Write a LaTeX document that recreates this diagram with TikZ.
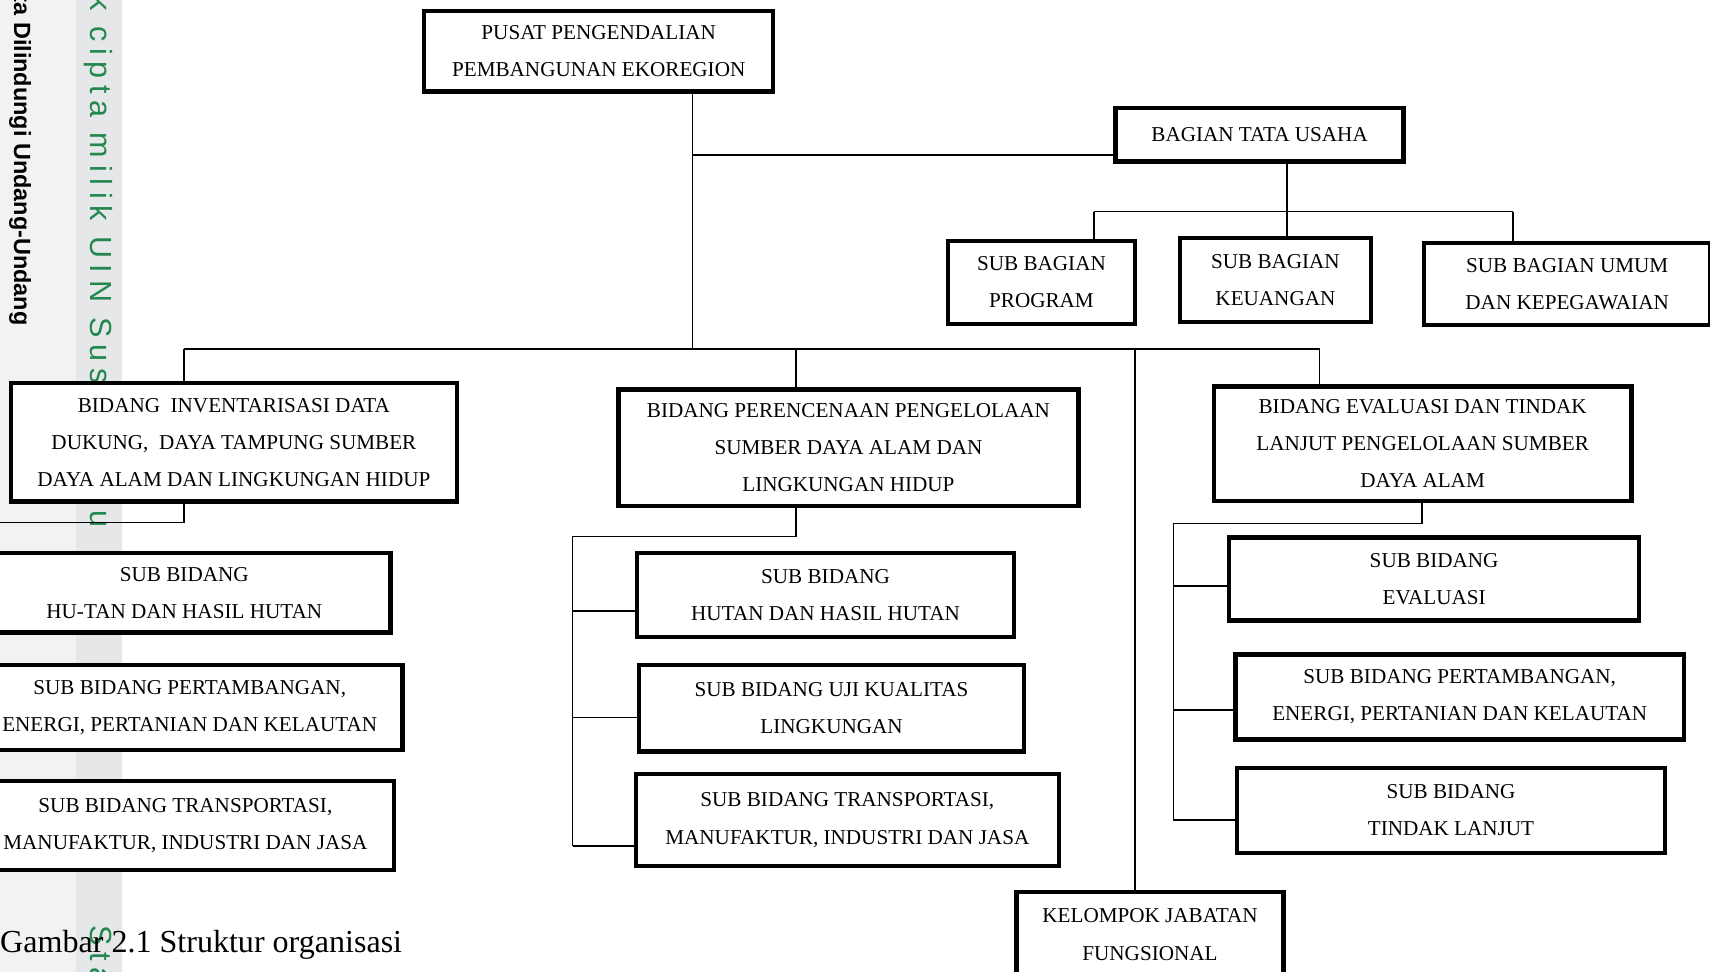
\documentclass[tikz,border=0pt]{standalone}
\usepackage{fontspec}
\setmainfont{Liberation Serif}
\newfontfamily\wmsans{Liberation Sans}[LetterSpace=22]
\newfontfamily\wmbold{Liberation Sans}
\definecolor{stripgray}{HTML}{E6E7E8}
\definecolor{leftgray}{HTML}{F2F2F2}
\definecolor{wmgreen}{HTML}{23874F}
\tikzset{
  orgbox/.style={draw=black, line width=4pt, fill=white, align=center, inner sep=0pt,
    font=\fontsize{19.4}{34}\selectfont},
  link/.style={draw=black, line width=1.6pt},
  wmtext/.style={rotate=-90, anchor=base west, inner sep=0pt}
}
\begin{document}
\begin{tikzpicture}[x=1pt,y=-1pt]
\useasboundingbox (0,0) rectangle (1568,891);
\clip (0,0) rectangle (1568,891);
% page margin strip
\fill[leftgray] (0,0) rectangle (70,891);
\fill[stripgray] (70,0) rectangle (112,891);
\node[wmtext, text=black, font=\wmbold\bfseries\fontsize{21.5}{24}\selectfont] (wm1) at (13,-85) {Hak Cipta Dilindungi Undang-Undang};
\node[wmtext, text=wmgreen, font=\wmsans\fontsize{28}{32}\selectfont] (wm2) at (83,-52) {Hak cipta milik UIN Suska Riau};
\node[wmtext, text=wmgreen, font=\wmsans\fontsize{28}{32}\selectfont] (wm3) at (83,848) {State Islamic University of Sultan Syarif Kasim Riau};

% boxes
\node[orgbox, minimum width=320pt, minimum height=74pt] (pusat) at (549,47) {PUSAT PENGENDALIAN\\PEMBANGUNAN EKOREGION};
\node[orgbox, minimum width=264pt, minimum height=49pt] (btu) at (1155,123.5) {BAGIAN TATA USAHA};
\node[orgbox, minimum width=172pt, minimum height=76pt] (sbprog) at (955,259) {SUB BAGIAN\\PROGRAM};
\node[orgbox, minimum width=175pt, minimum height=77pt] (sbkeu) at (1169.5,256.5) {SUB BAGIAN\\KEUANGAN};
\node[orgbox, minimum width=262pt, minimum height=75pt] (sbumum) at (1437,260.5) {SUB BAGIAN UMUM\\DAN KEPEGAWAIAN};

\node[orgbox, minimum width=409pt, minimum height=109pt] (binv) at (214.5,405.5) {BIDANG\ \ INVENTARISASI DATA\\DUKUNG,\ \ DAYA TAMPUNG SUMBER\\DAYA ALAM DAN LINGKUNGAN HIDUP};
\node[orgbox, minimum width=422pt, minimum height=107pt] (bper) at (778,410.5) {BIDANG PERENCENAAN PENGELOLAAN\\SUMBER DAYA ALAM DAN\\LINGKUNGAN HIDUP};
\node[orgbox, minimum width=383pt, minimum height=105pt] (beval) at (1304.5,407) {BIDANG EVALUASI DAN TINDAK\\LANJUT PENGELOLAAN SUMBER\\DAYA ALAM};

\node[orgbox, minimum width=378pt, minimum height=73pt] (lhutan) at (169,543.5) {SUB BIDANG\\HU-TAN DAN HASIL HUTAN};
\node[orgbox, minimum width=390pt, minimum height=78pt] (ltamb) at (174,649) {SUB BIDANG PERTAMBANGAN,\\ENERGI, PERTANIAN DAN KELAUTAN};
\node[orgbox, minimum width=382pt, minimum height=82pt] (ltrans) at (170,757) {SUB BIDANG TRANSPORTASI,\\MANUFAKTUR, INDUSTRI DAN JASA};

\node[orgbox, minimum width=346pt, minimum height=77pt] (mhutan) at (757,545.5) {SUB BIDANG\\HUTAN DAN HASIL HUTAN};
\node[orgbox, minimum width=353pt, minimum height=79pt] (muji) at (762.5,649.5) {SUB BIDANG UJI KUALITAS\\LINGKUNGAN};
\node[orgbox, minimum width=388pt, minimum height=84pt] (mtrans) at (777,752) {SUB BIDANG TRANSPORTASI,\\MANUFAKTUR, INDUSTRI DAN JASA};

\node[orgbox, minimum width=245pt, minimum height=78pt] (kel) at (1054.5,857) {KELOMPOK JABATAN\\FUNGSIONAL};

\node[orgbox, minimum width=376pt, minimum height=76pt] (reval) at (1315,531) {SUB BIDANG\\EVALUASI};
\node[orgbox, minimum width=411pt, minimum height=78pt] (rtamb) at (1338.5,639) {SUB BIDANG PERTAMBANGAN,\\ENERGI, PERTANIAN DAN KELAUTAN};
\node[orgbox, minimum width=393pt, minimum height=78pt] (rtind) at (1330.5,743) {SUB BIDANG\\TINDAK LANJUT};

% connectors: top level
\coordinate (j0) at (635,320);
\draw[link] (pusat.south -| j0) -- (j0);
\coordinate (jt) at (635,142);
\draw[link] (jt) -- (jt -| btu.west);
\coordinate (hl) at (169,320);
\coordinate (hr) at (1210,320);
\coordinate (hm) at (730,320);
\coordinate (hk) at (1041,320);
\draw[link] (hl) -- (hr);
\draw[link] (hl) -- (hl |- binv.north);
\draw[link] (hm) -- (hm |- bper.north);
\draw[link] (hr) -- (hr |- beval.north);
\draw[link] (hk) -- (hk |- kel.north);

% bagian tata usaha
\coordinate (bt) at (1180,194);
\coordinate (btl) at (1003,194);
\coordinate (btr) at (1387,194);
\draw[link] (btu.south -| bt) -- (sbkeu.north -| bt);
\draw[link] (btl) -- (btr);
\draw[link] (btl) -- (btl |- sbprog.north);
\draw[link] (btr) -- (btr |- sbumum.north);

% left branch
\coordinate (lb) at (169,479);
\coordinate (ls) at (-40,479);
\draw[link] (binv.south -| lb) -- (lb) -- (ls) -- (ls |- ltrans.west) -- (ltrans.west);
\draw[link] (ls |- lhutan.west) -- (lhutan.west);
\draw[link] (ls |- ltamb.west) -- (ltamb.west);

% middle branch
\coordinate (mb) at (730,492);
\coordinate (ms) at (525,492);
\coordinate (m1) at (525,560);
\coordinate (m2) at (525,658);
\coordinate (m3) at (525,776);
\draw[link] (bper.south -| mb) -- (mb) -- (ms) -- (m3);
\draw[link] (m1) -- (m1 -| mhutan.west);
\draw[link] (m2) -- (m2 -| muji.west);
\draw[link] (m3) -- (m3 -| mtrans.west);

% right branch
\coordinate (rb) at (1304,480);
\coordinate (rs) at (1076,480);
\coordinate (r1) at (1076,537);
\coordinate (r2) at (1076,651);
\coordinate (r3) at (1076,752);
\draw[link] (beval.south -| rb) -- (rb) -- (rs) -- (r3);
\draw[link] (r1) -- (r1 -| reval.west);
\draw[link] (r2) -- (r2 -| rtamb.west);
\draw[link] (r3) -- (r3 -| rtind.west);

% caption
\node[anchor=base west, inner sep=0pt, font=\fontsize{29.4}{34}\selectfont] (cap) at (0,873) {Gambar 2.1 Struktur organisasi};
\end{tikzpicture}
\end{document}
